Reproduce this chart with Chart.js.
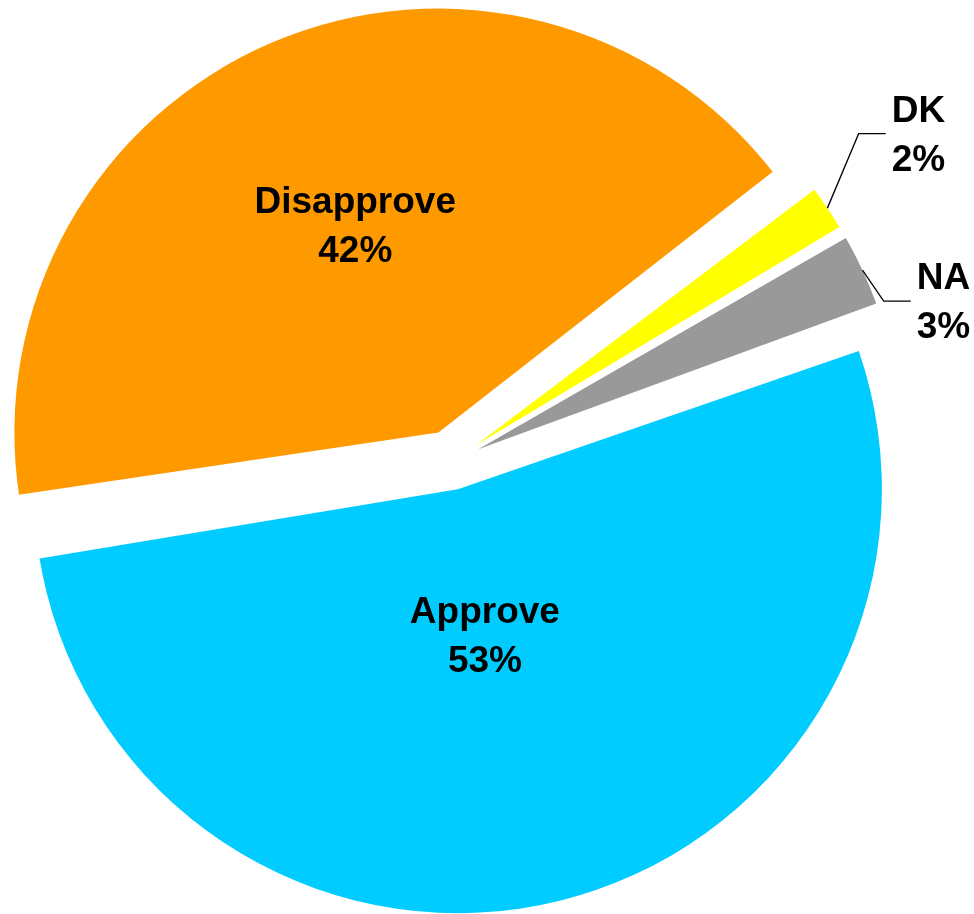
<!DOCTYPE html>
<html>
<head>
<meta charset="utf-8">
<script src="https://cdn.jsdelivr.net/npm/chart.js@4.4.1/dist/chart.umd.min.js"></script>
<style>
  html, body { margin: 0; padding: 0; background: #fff; }
  #wrap { width: 974px; height: 914px; }
</style>
</head>
<body>
<div id="wrap"><canvas id="pie" width="974" height="914"></canvas></div>
<script>
// slices, clockwise starting from the left side
const labels = ['Disapprove', 'DK', 'NA', 'Approve'];
const percents = [42, 2, 3, 53];
const colors = ['#FF9900', '#FFFF00', '#999999', '#00CCFF'];
// how far each slice is pulled out, in px (Chart.js divides offset by 4)
const shifts = [32, 30, 30, 28];

const RIM = 424;
const FONT = 'bold 37px "Liberation Sans", Arial, sans-serif';

// inside labels: polar from the slice tip; outside labels: shifted from the rim, with a leader
const labelSpots = [
    { inside: true, dist: 0.528, turn: 1.4 },
    { inside: false, dx: 91, dy: -74.5 },
    { inside: false, dx: 81, dy: 31 },
    { inside: true, dist: 0.35, turn: 3.7 }
];

// Chart.js grows the radius of exploded slices, keep every rim at the same size
const rimFix = {
    id: 'rimFix',
    afterDatasetUpdate(chart, args) {
        args.meta.data.forEach((arc, i) => {
            const fix = 1 - Math.sin(Math.min(Math.PI, arc.circumference));
            arc.outerRadius = RIM - shifts[i] * fix;
        });
    }
};

const sliceLabels = {
    id: 'sliceLabels',
    afterDatasetsDraw(chart) {
        const ctx = chart.ctx;
        const arcs = chart.getDatasetMeta(0).data;
        ctx.save();
        ctx.font = FONT;
        ctx.fillStyle = '#000';
        ctx.strokeStyle = '#000';
        ctx.lineWidth = 1.3;
        ctx.textAlign = 'center';
        ctx.textBaseline = 'alphabetic';
        arcs.forEach((arc, i) => {
            const mid = (arc.startAngle + arc.endAngle) / 2;
            const tipX = arc.x + Math.cos(mid) * shifts[i];
            const tipY = arc.y + Math.sin(mid) * shifts[i];
            const spot = labelSpots[i];
            const top = labels[i];
            const bottom = percents[i] + '%';
            let cx, cy;
            if (spot.inside) {
                const a = mid + spot.turn * Math.PI / 180;
                cx = tipX + Math.cos(a) * spot.dist * RIM;
                cy = tipY + Math.sin(a) * spot.dist * RIM;
            } else {
                const sx = tipX + Math.cos(mid) * RIM;
                const sy = tipY + Math.sin(mid) * RIM;
                cx = sx + spot.dx;
                cy = sy + spot.dy;
                const half = Math.max(ctx.measureText(top).width, ctx.measureText(bottom).width) / 2;
                const left = cx - half;
                ctx.beginPath();
                ctx.moveTo(sx, sy);
                ctx.lineTo(left - 33, cy);
                ctx.lineTo(left - 6, cy);
                ctx.stroke();
            }
            ctx.fillText(top, cx, cy - 12);
            ctx.fillText(bottom, cx, cy + 37);
        });
        ctx.restore();
    }
};

new Chart(document.getElementById('pie'), {
    type: 'pie',
    data: {
        labels: labels,
        datasets: [{
            data: percents,
            backgroundColor: colors,
            borderWidth: 0,
            offset: shifts.map(s => s * 4)
        }]
    },
    options: {
        responsive: false,
        animation: false,
        events: [],
        rotation: 261.2,
        radius: RIM,
        layout: { padding: { left: 0, right: 72, top: 10, bottom: 0 } },
        plugins: {
            legend: { display: false },
            tooltip: { enabled: false }
        }
    },
    plugins: [rimFix, sliceLabels]
});
</script>
</body>
</html>
